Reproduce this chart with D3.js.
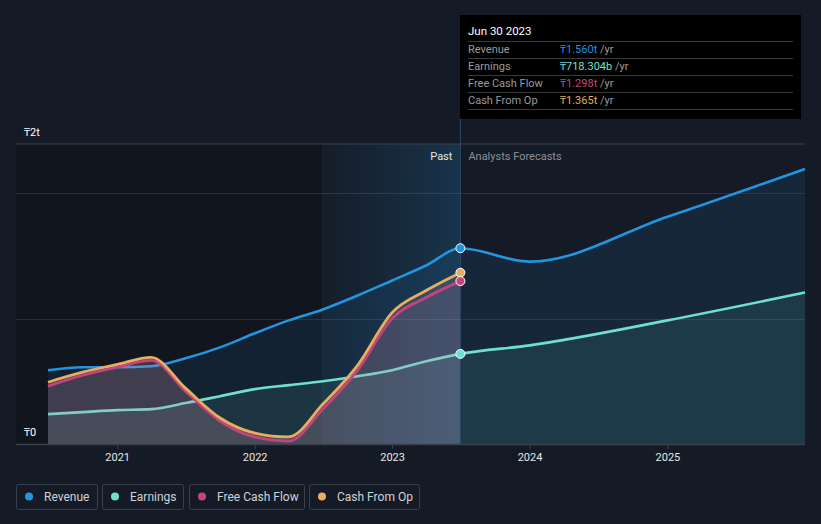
<!DOCTYPE html>
<html>
<head>
<meta charset="utf-8">
<script src="https://cdn.jsdelivr.net/npm/d3@7"></script>
<style>
  html, body { margin: 0; padding: 0; background: #151b26; }
  svg { display: block; font-family: Roboto, "Noto Sans", sans-serif; }
</style>
</head>
<body>
<svg id="chart" width="821" height="524"></svg>
<script>
// ---------- data (values in trillions of ₸) ----------
const pastDates = ["2020-06-30","2020-09-30","2020-12-31","2021-03-31","2021-06-30","2021-09-30",
                   "2021-12-31","2022-03-31","2022-06-30","2022-09-30","2022-12-31","2023-03-31","2023-06-30"];
const revenuePast  = [0.588,0.612,0.612,0.620,0.683,0.770,0.882,0.985,1.072,1.183,1.303,1.422,1.560];
const earningsPast = [0.238,0.254,0.270,0.278,0.326,0.381,0.437,0.469,0.500,0.540,0.588,0.659,0.718];
const fcfPast      = [0.461,0.548,0.612,0.667,0.421,0.183,0.056,0.024,0.278,0.588,1.001,1.168,1.298];
const cfoPast      = [0.492,0.572,0.635,0.691,0.445,0.207,0.087,0.056,0.318,0.627,1.048,1.223,1.365];

const forecastDates    = ["2023-06-30","2023-12-31","2024-12-31","2025-12-31"];
const revenueForecast  = [1.560,1.453,1.811,2.192];
const earningsForecast = [0.718,0.786,0.985,1.207];

const xTickYears  = [2021,2022,2023,2024,2025];
const yGridValues = [1,2];
const yTickLabels = [{v:0,label:"₸0"},{v:2,label:"₸2t"}];

const tooltipTitle = "Jun 30 2023";
const tooltipRows = [
  {name:"Revenue", value:"₸1.560t", key:"rev"},
  {name:"Earnings", value:"₸718.304b", key:"earn"},
  {name:"Free Cash Flow", value:"₸1.298t", key:"fcf"},
  {name:"Cash From Op", value:"₸1.365t", key:"cfo"}
];
const legendItems = [
  {name:"Revenue", key:"rev"},
  {name:"Earnings", key:"earn"},
  {name:"Free Cash Flow", key:"fcf"},
  {name:"Cash From Op", key:"cfo"}
];

const colors = {rev:"#2394df", earn:"#6de0d0", fcf:"#c7437e", cfo:"#e8ad5f"};

// ---------- setup ----------
const parse = d3.timeParse("%Y-%m-%d");
const svg = d3.select("#chart");
const W = 821, H = 524;
const plotL = 48, plotR = 805, plotT = 144, plotB = 444;
const frameL = 16;

const x = d3.scaleTime()
  .domain([parse("2020-06-30"), parse("2025-12-31")])
  .range([plotL, plotR]);
const y = d3.scaleLinear().domain([0, 2]).range([plotB, 193]);

const nowDate = parse("2023-06-30");
const pastStart = parse("2022-06-30");
const xNow = x(nowDate), xPastStart = x(pastStart);

const mk = (dates, vals) => dates.map((d,i)=>({date:parse(d), v:vals[i]}));
const revP = mk(pastDates, revenuePast), earnP = mk(pastDates, earningsPast);
const fcfP = mk(pastDates, fcfPast), cfoP = mk(pastDates, cfoPast);
const revF = mk(forecastDates, revenueForecast), earnF = mk(forecastDates, earningsForecast);

const curve = d3.curveMonotoneX;
const line = d3.line().x(d=>x(d.date)).y(d=>y(d.v)).curve(curve);
const area = d3.area().x(d=>x(d.date)).y0(plotB).y1(d=>y(d.v)).curve(curve);

const defs = svg.append("defs");
const g1 = defs.append("linearGradient").attr("id","pastGrad").attr("x1","0").attr("x2","1").attr("y1","0").attr("y2","0");
g1.append("stop").attr("offset","0%").attr("stop-color","#2394df").attr("stop-opacity",0.02);
g1.append("stop").attr("offset","100%").attr("stop-color","#2394df").attr("stop-opacity",0.2);

// ---------- backgrounds ----------
svg.append("rect").attr("x",0).attr("y",0).attr("width",W).attr("height",H).attr("fill","#151b26");
svg.append("rect").attr("x",frameL).attr("y",plotT).attr("width",xPastStart-frameL).attr("height",plotB-plotT)
  .attr("fill","#0e1117").attr("opacity",0.45);
svg.append("rect").attr("x",xPastStart).attr("y",plotT).attr("width",xNow-xPastStart).attr("height",plotB-plotT)
  .attr("fill","url(#pastGrad)");
svg.append("line").attr("x1",xPastStart).attr("x2",xPastStart).attr("y1",plotT).attr("y2",plotB)
  .attr("stroke","#2394df").attr("stroke-opacity",0.12);

// gridlines
svg.append("line").attr("x1",frameL).attr("x2",plotR).attr("y1",plotT).attr("y2",plotT)
  .attr("stroke","#3b404a").attr("stroke-width",1);
svg.selectAll(".grid").data(yGridValues).join("line")
  .attr("x1",frameL).attr("x2",plotR).attr("y1",d=>Math.round(y(d))+0.5).attr("y2",d=>Math.round(y(d))+0.5)
  .attr("stroke","#ffffff").attr("stroke-opacity",0.1);

// ---------- areas & lines ----------
const revAll = revP.concat(revF.slice(1));
const earnAll = earnP.concat(earnF.slice(1));

svg.append("path").datum(revAll).attr("d",area).attr("fill","#2394df").attr("fill-opacity",0.1);
svg.append("path").datum(earnAll).attr("d",area).attr("fill","#6de0d0").attr("fill-opacity",0.1);

svg.append("path").datum(revAll).attr("d",line).attr("fill","none").attr("stroke",colors.rev).attr("stroke-width",2.6);
svg.append("path").datum(earnAll).attr("d",line).attr("fill","none").attr("stroke",colors.earn).attr("stroke-width",2.6);

// cash flow areas on top (translucent)
svg.append("path").datum(fcfP).attr("d",area).attr("fill","#c7437e").attr("fill-opacity",0.12);
svg.append("path").datum(cfoP).attr("d",area).attr("fill","#d8d8d8").attr("fill-opacity",0.14);

svg.append("path").datum(fcfP).attr("d",line).attr("fill","none").attr("stroke",colors.fcf).attr("stroke-width",2.8);
svg.append("path").datum(cfoP).attr("d",line).attr("fill","none").attr("stroke",colors.cfo).attr("stroke-width",2.8);

// now line
svg.append("line").attr("x1",xNow).attr("x2",xNow).attr("y1",119).attr("y2",plotB)
  .attr("stroke","#2b4a66").attr("stroke-width",1);

// dots
const dots = [
  {v:revenuePast[12], k:"rev"},
  {v:cfoPast[12], k:"cfo"},
  {v:fcfPast[12], k:"fcf"},
  {v:earningsPast[12], k:"earn"}
];
svg.selectAll(".dot").data(dots).join("circle")
  .attr("cx",xNow).attr("cy",d=>y(d.v)).attr("r",4.5)
  .attr("fill",d=>colors[d.k]).attr("stroke","#ffffff").attr("stroke-width",1);

// ---------- axes ----------
svg.append("line").attr("x1",frameL).attr("x2",plotR).attr("y1",plotB+0.5).attr("y2",plotB+0.5)
  .attr("stroke","#3b404a").attr("stroke-width",1.5);
const xTicks = xTickYears.map(yr=>new Date(yr,0,1));
svg.selectAll(".xtick").data(xTicks).join("line")
  .attr("x1",d=>x(d)).attr("x2",d=>x(d)).attr("y1",plotB).attr("y2",plotB+5)
  .attr("stroke","#3b404a");
svg.selectAll(".xlab").data(xTicks).join("text")
  .attr("x",d=>x(d)).attr("y",461).attr("text-anchor","middle")
  .attr("fill","#e6e6e6").attr("font-size",11).text(d=>d3.timeFormat("%Y")(d));

svg.selectAll(".ylab").data(yTickLabels).join("text")
  .attr("x",24).attr("y",d=>d.v===0 ? 436 : 136)
  .attr("fill","#ffffff").attr("font-size",11).text(d=>d.label);

// Past / Analysts Forecasts
svg.append("text").attr("x",xNow-8).attr("y",160).attr("text-anchor","end")
  .attr("fill","#e6e6e6").attr("font-size",11).text("Past");
svg.append("text").attr("x",xNow+8).attr("y",160).attr("text-anchor","start")
  .attr("fill","#8a8f99").attr("font-size",11).text("Analysts Forecasts");

// ---------- tooltip ----------
const tt = svg.append("g").attr("transform","translate(460,15)");
tt.append("rect").attr("width",341).attr("height",104).attr("fill","#000000");
tt.append("text").attr("x",8).attr("y",20).attr("fill","#ffffff").attr("font-size",11.5).text(tooltipTitle);
const rowH = 17;
const rowTop = 26;
tt.selectAll(".sep").data(d3.range(5)).join("line")
  .attr("x1",8).attr("x2",333).attr("y1",d=>rowTop+0.5+d*rowH).attr("y2",d=>rowTop+0.5+d*rowH)
  .attr("stroke","#3a3a3a");
const rows = tt.selectAll(".row").data(tooltipRows).join("g")
  .attr("transform",(d,i)=>`translate(0,${rowTop+i*rowH})`);
rows.append("text").attr("x",8).attr("y",12).attr("fill","#9a9a9a").attr("font-size",11).text(d=>d.name);
const vt = rows.append("text").attr("x",100).attr("y",12).attr("font-size",11);
vt.append("tspan").attr("fill",d=>colors[d.key]).text(d=>d.value);
vt.append("tspan").attr("fill","#9a9a9a").text(" /yr");

// ---------- legend ----------
const legBoxes = [{x:16,w:81},{x:102,w:81},{x:189,w:115},{x:309,w:110}];
const lg = svg.selectAll(".leg").data(legendItems).join("g")
  .attr("transform",(d,i)=>`translate(${legBoxes[i].x},484)`);
lg.append("rect").attr("x",0.5).attr("y",0.5).attr("width",(d,i)=>legBoxes[i].w).attr("height",25).attr("rx",2)
  .attr("fill","none").attr("stroke","#3a3f4a");
lg.append("circle").attr("cx",13).attr("cy",12.5).attr("r",4).attr("fill",d=>colors[d.key]);
lg.append("text").attr("x",28).attr("y",16.5).attr("fill","#cfd2d6").attr("font-size",12).text(d=>d.name);
</script>
</body>
</html>
